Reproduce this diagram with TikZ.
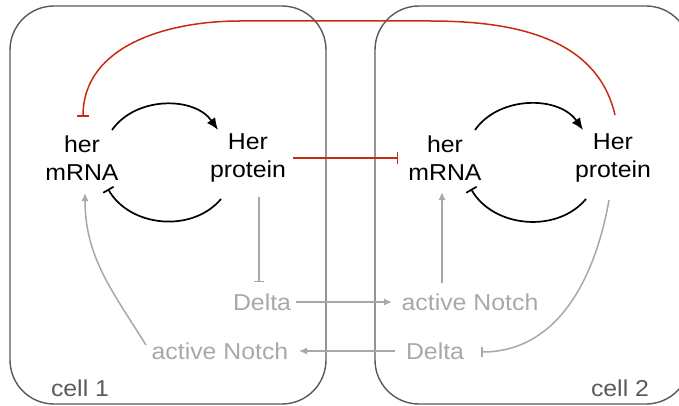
\documentclass[tikz,border=0pt]{standalone}
\usepackage{fontspec}
\setmainfont{Liberation Sans}[FakeStretch=1.08]
\usetikzlibrary{positioning,arrows.meta}
\definecolor{herRed}{RGB}{200,42,18}
\definecolor{notchGrey}{RGB}{168,168,168}
\definecolor{cellGrey}{RGB}{88,90,95}
\tikzset{>={Latex[length=12pt,width=10pt]}}

\begin{document}
\begin{tikzpicture}[x=1pt,y=-1pt,
    txt/.style={align=center,inner sep=0pt,font=\fontsize{23}{28}\selectfont},
    sig/.style={txt,text=notchGrey},
    cellbox/.style={draw=cellGrey,line width=1.4pt,rounded corners=44pt,minimum height=398pt},
    loop/.style={line width=1.7pt,bend left=55},
    repress/.style={-{Bar[width=12pt]}},
    grey/.style={draw=notchGrey,line width=1.5pt},
    greyarrow/.style={grey,-{Latex[length=8pt,width=7pt]}}]

    \useasboundingbox (0,0) rectangle (679,406);

    \def\xCellA{168}
    \def\xCellB{532.5}
    \def\yCell{205}
    \def\xMrnaA{82}
    \def\xProtA{248}
    \def\xMrnaB{445}
    \def\xProtB{613}
    \def\yGenes{158}
    \def\yUpper{302}
    \def\yLower{351}
    \def\yLabel{388}

    \node
        [cellbox,minimum width=316pt]
        at (\xCellA,\yCell)
        (cellA) {};
    \node
        [cellbox,minimum width=315pt]
        at (\xCellB,\yCell)
        (cellB) {};
    \node
        [txt,text=cellGrey]
        at (80,\yLabel)
        (labelA) {cell 1};
    \node
        [txt,text=cellGrey]
        at (620,\yLabel)
        (labelB) {cell 2};

    \node [txt] at (\xMrnaA,\yGenes) (mrnaA) {her\\mRNA};
    \node [txt] at (\xProtA,\yGenes) (protA) {Her\\protein};
    \node [txt] at (\xMrnaB,\yGenes) (mrnaB) {her\\mRNA};
    \node [txt] at (\xProtB,\yGenes) (protB) {Her\\protein};

    \node [sig] at (262,\yUpper) (deltaA) {Delta};
    \node [sig] at (470,\yUpper) (notchB) {active Notch};
    \node [sig] at (220,\yLower) (notchA) {active Notch};
    \node [sig] at (435,\yLower) (deltaB) {Delta};

    % autoinhibition loops
    \draw[loop,->] ([shift={(30,-28)}]mrnaA.center) to ([shift={(-30,-28)}]protA.center);
    \draw[loop,repress] ([shift={(-27,41)}]protA.center) to ([shift={(26,31)}]mrnaA.center);
    \draw[loop,->] ([shift={(30,-28)}]mrnaB.center) to ([shift={(-30,-28)}]protB.center);
    \draw[loop,repress] ([shift={(-27,41)}]protB.center) to ([shift={(26,31)}]mrnaB.center);

    % Her between cells
    \draw[herRed,line width=1.5pt,repress] ([xshift=45pt]protA.center) -- ([xshift=-47pt]mrnaB.center);
    \draw[herRed,line width=1.5pt,repress] ([shift={(2,-43)}]protB.center)
        to[out=103,in=0] (430,21) -- (240,21) to[out=180,in=90] ([shift={(1,-41)}]mrnaA.center);

    % Delta-Notch
    \draw[grey,-{Bar[width=10pt]}] ([shift={(11,39)}]protA.center) -- ([shift={(-3,-20)}]deltaA.center);
    \draw[greyarrow] ([xshift=34pt]deltaA.center) -- ([xshift=-78pt]notchB.center);
    \draw[greyarrow] ([shift={(-28,-19)}]notchB.center) -- ([shift={(-3,34)}]mrnaB.center);
    \draw[greyarrow] ([xshift=-40pt]deltaB.center) -- ([xshift=79pt]notchA.center);
    \draw[greyarrow] ([shift={(-74,-6)}]notchA.center) to[out=122,in=-90] ([shift={(3,35)}]mrnaA.center);
    \draw[grey,-{Bar[width=10pt]}] ([shift={(-4,42)}]protB.center) to[out=-100,in=0] ([shift={(46,1)}]deltaB.center);

\end{tikzpicture}
\end{document}
